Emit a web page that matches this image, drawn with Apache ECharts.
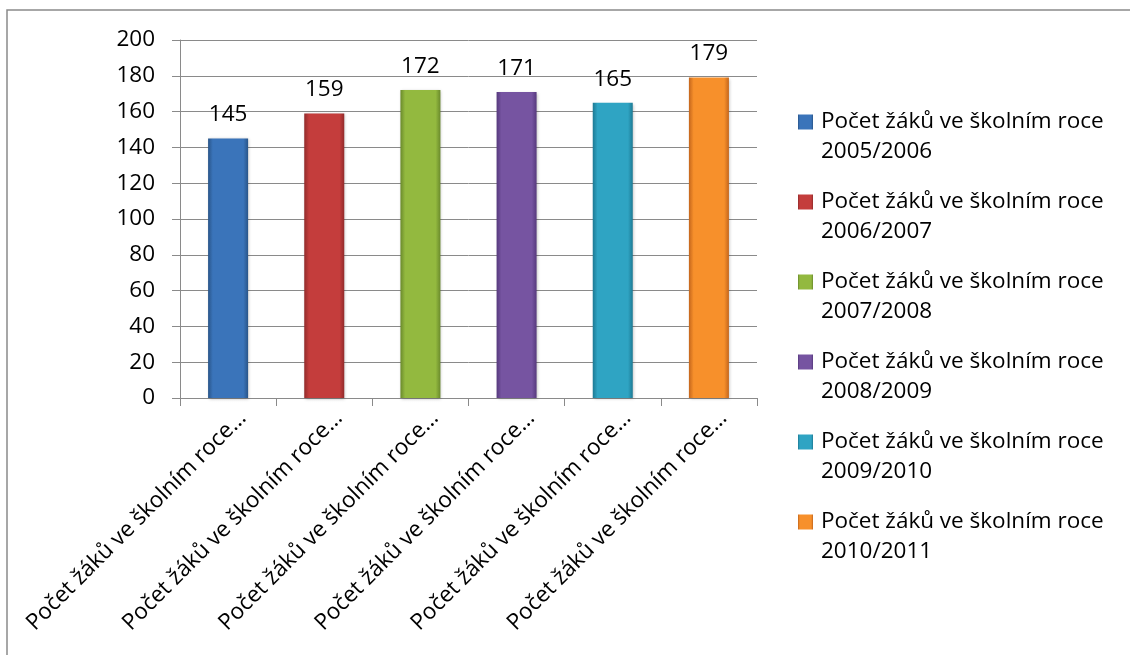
<!DOCTYPE html>
<html><head><meta charset="utf-8">
<script src="https://cdn.jsdelivr.net/npm/echarts@6/dist/echarts.min.js"></script>
<style>html,body{margin:0;padding:0;background:#fff}#c{width:1130px;height:655px}</style>
</head><body><div id="c"></div>
<script>
const categories = [
  'Počet žáků ve školním roce 2005/2006',
  'Počet žáků ve školním roce 2006/2007',
  'Počet žáků ve školním roce 2007/2008',
  'Počet žáků ve školním roce 2008/2009',
  'Počet žáků ve školním roce 2009/2010',
  'Počet žáků ve školním roce 2010/2011'
];
const values = [145, 159, 172, 171, 165, 179];
const yTicks = [0, 20, 40, 60, 80, 100, 120, 140, 160, 180, 200];
const midColors = ['#3a74ba', '#c43d3c', '#93b93f', '#7654a1', '#2fa4c3', '#f7902b'];
const edgeColors = ['#295589', '#922b2b', '#6a8a2c', '#56397d', '#1d7a94', '#c4661c'];

const FONT = 'Open Sans';
const FS = 22.5;
const chart = echarts.init(document.getElementById('c'), null, {renderer: 'canvas'});

const series = categories.map((name, i) => ({
  name: name,
  type: 'bar',
  stack: 'all',
  barWidth: 40,
  data: categories.map((_, j) => j === i ? values[i] : null),
  itemStyle: {
    color: new echarts.graphic.LinearGradient(0, 0, 1, 0, [
      {offset: 0, color: edgeColors[i]},
      {offset: 0.12, color: midColors[i]},
      {offset: 0.5, color: midColors[i]},
      {offset: 0.88, color: midColors[i]},
      {offset: 1, color: edgeColors[i]}
    ]),
    shadowColor: 'rgba(0,0,0,0.25)', shadowBlur: 3, shadowOffsetX: 1, shadowOffsetY: 1
  },
  label: {
    show: true, position: 'top', distance: 12,
    color: '#000', fontFamily: FONT, fontSize: FS,
    formatter: p => p.value == null ? '' : String(p.value)
  }
}));

chart.setOption({
  animation: false,
  backgroundColor: '#fff',
  graphic: [{
    type: 'rect', shape: {x: 7, y: 10, width: 1200, height: 700},
    style: {fill: null, stroke: '#8a8a8a', lineWidth: 1.5}, silent: true
  }],
  grid: {left: 180, right: 373, top: 40, bottom: 257},
  xAxis: {
    type: 'category', data: categories,
    axisLine: {lineStyle: {color: '#8a8a8a', width: 1}},
    axisTick: {show: true, length: 8, alignWithLabel: false, lineStyle: {color: '#8a8a8a'}},
    axisLabel: {
      rotate: 45, interval: 0, margin: 2,
      verticalAlign: 'top', padding: [9, 0, 0, 0],
      color: '#000', fontFamily: FONT, fontSize: FS,
      formatter: v => v.replace(/\s+\S+$/, '') + '…'
    }
  },
  yAxis: {
    type: 'value', min: yTicks[0], max: yTicks[yTicks.length - 1], interval: 20,
    axisLine: {show: true, lineStyle: {color: '#8a8a8a', width: 1}},
    axisTick: {show: true, length: 8, lineStyle: {color: '#8a8a8a'}},
    splitLine: {lineStyle: {color: '#8a8a8a', width: 1}},
    axisLabel: {margin: 25, color: '#000', fontFamily: FONT, fontSize: FS}
  },
  legend: {
    orient: 'vertical', left: 793, top: 72,
    itemWidth: 15, itemHeight: 15, itemGap: -10,
    icon: 'rect',
    data: categories,
    textStyle: {fontFamily: FONT, fontSize: FS, color: '#000', lineHeight: 30, padding: [0, 0, 0, 3]},
    formatter: n => '\n' + n.replace(/\s+(\S+)$/, '\n$1'),
    selectedMode: false
  },
  series: series
});
</script></body></html>
